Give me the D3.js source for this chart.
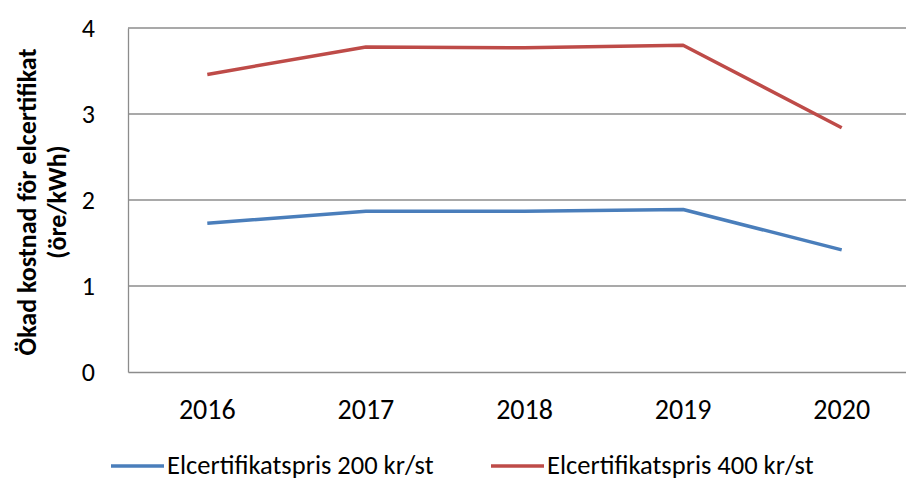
<!DOCTYPE html>
<html>
<head>
<meta charset="utf-8">
<script src="https://cdn.jsdelivr.net/npm/d3@7"></script>
<style>
  body { margin: 0; background: #fff; }
  text { font-family: Calibri, Carlito, "Liberation Sans Narrow", "DejaVu Sans Condensed", "Open Sans", sans-serif; }
</style>
</head>
<body>
<script>
// data
var years = ["2016", "2017", "2018", "2019", "2020"];
var pris200 = [1.73, 1.87, 1.87, 1.89, 1.42];
var pris400 = [3.46, 3.78, 3.77, 3.80, 2.84];
var yTicks = [0, 1, 2, 3, 4];
var seriesNames = ["Elcertifikatspris 200 kr/st", "Elcertifikatspris 400 kr/st"];
var colors = ["#4a7ebb", "#be4b48"];

var svg = d3.select("body").append("svg")
  .attr("width", 906)
  .attr("height", 480);

// plot area (right side runs past the picture edge)
var plotL = 128, plotT = 28, plotB = 372, plotR = 921;

var x = d3.scaleBand().domain(years).range([plotL, plotR]);
var y = d3.scaleLinear().domain([0, 4]).range([plotB, plotT]);

// gridlines
svg.append("g").selectAll("line")
  .data(yTicks.filter(function (d) { return d > 0; }))
  .enter().append("line")
  .attr("x1", plotL).attr("x2", plotR)
  .attr("y1", function (d) { return y(d); })
  .attr("y2", function (d) { return y(d); })
  .attr("stroke", "#8c8c8c")
  .attr("stroke-width", 1.3);

// y axis
var yAxis = svg.append("g")
  .attr("transform", "translate(" + plotL + ",0)")
  .call(d3.axisLeft(y).tickValues(yTicks).tickFormat(d3.format("d")).tickSize(0).tickPadding(33));
yAxis.select(".domain").attr("stroke", "#8c8c8c").attr("stroke-width", 1.3);
yAxis.selectAll("text")
  .attr("font-size", 26).attr("fill", "#000")
  .attr("dy", 8);

// x axis
var xAxis = svg.append("g")
  .attr("transform", "translate(0," + plotB + ")")
  .call(d3.axisBottom(x).tickSize(0));
xAxis.select(".domain").attr("stroke", "#8c8c8c").attr("stroke-width", 1.3);
xAxis.selectAll("text")
  .attr("font-size", 28).attr("fill", "#000")
  .attr("y", 47).attr("dy", 0);

// axis title
var title = svg.append("text")
  .attr("transform", "translate(36,202) rotate(-90)")
  .attr("text-anchor", "middle")
  .attr("font-size", 26)
  .attr("font-weight", "bold");
title.append("tspan").attr("x", 0).attr("dy", 0).text("Ökad kostnad för elcertifikat");
title.append("tspan").attr("x", 0).attr("dy", 30).text("(öre/kWh)");

// lines
var line = d3.line()
  .x(function (d, i) { return x(years[i]) + x.bandwidth() / 2; })
  .y(function (d) { return y(d); });

[pris200, pris400].forEach(function (s, i) {
  svg.append("path")
    .attr("d", line(s))
    .attr("fill", "none")
    .attr("stroke", colors[i])
    .attr("stroke-width", 3.5)
    .attr("stroke-linejoin", "round");
});

// legend
var legendX = [111, 491];
seriesNames.forEach(function (name, i) {
  var g = svg.append("g").attr("transform", "translate(" + legendX[i] + ",466)");
  g.append("line")
    .attr("x1", 0).attr("x2", 53)
    .attr("y1", 0).attr("y2", 0)
    .attr("stroke", colors[i])
    .attr("stroke-width", 3.5);
  g.append("text")
    .attr("x", 56)
    .attr("y", 8)
    .attr("font-size", 26.5)
    .text(name);
});
</script>
</body>
</html>
